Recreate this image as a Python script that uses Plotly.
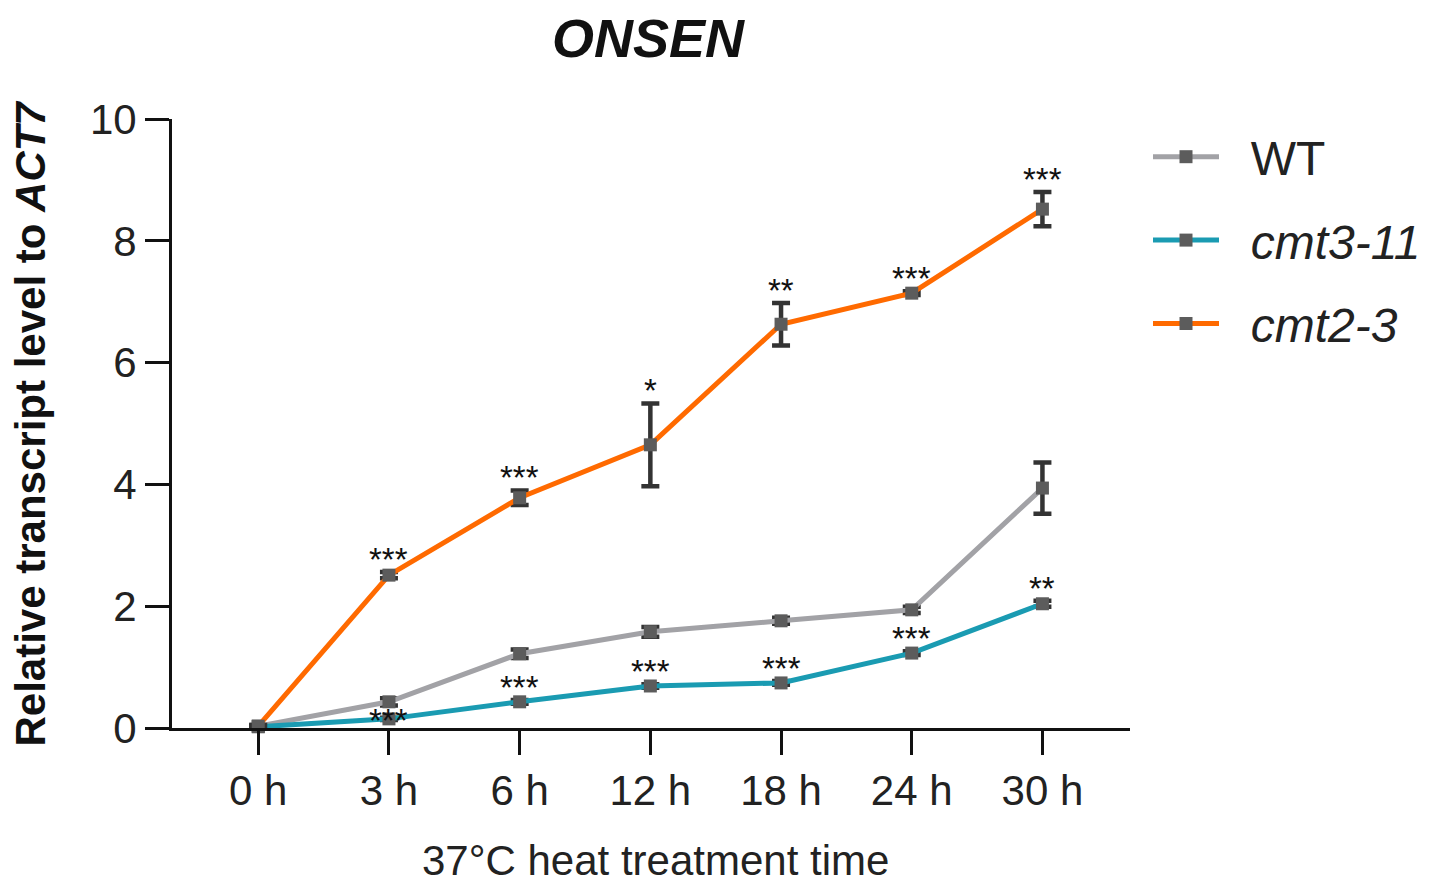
import plotly.graph_objects as go

times = ["0 h", "3 h", "6 h", "12 h", "18 h", "24 h", "30 h"]

wt_mean = [0.03, 0.43, 1.22, 1.58, 1.76, 1.94, 3.94]
wt_err = [0.02, 0.06, 0.07, 0.08, 0.05, 0.05, 0.42]

cmt3_mean = [0.02, 0.15, 0.43, 0.69, 0.74, 1.23, 2.04]
cmt3_err = [0.01, 0.02, 0.03, 0.03, 0.03, 0.03, 0.05]

cmt2_mean = [0.03, 2.51, 3.78, 4.65, 6.63, 7.14, 8.52]
cmt2_err = [0.02, 0.05, 0.12, 0.68, 0.35, 0.03, 0.28]

cmt3_stars = ["", "***", "***", "***", "***", "***", "**"]
cmt2_stars = ["", "***", "***", "*", "**", "***", "***"]

xpos = list(range(len(times)))

FONT = "Liberation Sans, Arial, sans-serif"
NB = "\u00a0"
fig = go.Figure()

series = [
    ("WT", wt_mean, wt_err, "#A2A2A6"),
    ("<i>cmt3-11</i>", cmt3_mean, cmt3_err, "#1A9BB2"),
    ("<i>cmt2-3</i>", cmt2_mean, cmt2_err, "#FF6A00"),
]
for i, (name, m, e, col) in enumerate(series):
    fig.add_trace(go.Scatter(
        x=xpos, y=m, name=NB * 2 + name, mode="lines+markers",
        line=dict(color=col, width=5),
        marker=dict(symbol="square", size=13, color="#5C5C5C"),
        error_y=dict(type="data", array=e, color="#333333", thickness=4.5, width=9),
        cliponaxis=False, legendgroup=f"g{i}",
    ))

annotations = []
for stars, m, e in ((cmt2_stars, cmt2_mean, cmt2_err), (cmt3_stars, cmt3_mean, cmt3_err)):
    for j, s in enumerate(stars):
        if not s:
            continue
        if stars is cmt3_stars and j == 1:
            y, shift = m[j], -22
        else:
            y, shift = m[j] + e[j], -8
        annotations.append(dict(
            x=xpos[j], y=y, text=s, showarrow=False, xref="x", yref="y",
            yanchor="bottom", yshift=shift,
            font=dict(family=FONT, size=33, color="#111111"),
        ))

# axis titles
annotations.append(dict(
    text="37°C heat treatment time", xref="paper", yref="paper",
    x=0.505, y=-0.0, yshift=-132, xanchor="center", yanchor="middle",
    showarrow=False, font=dict(family=FONT, size=42, color="#222222"),
))
annotations.append(dict(
    text="<b>Relative transcript level to <i>ACT7</i></b>", xref="paper", yref="paper",
    x=0, xshift=-142, y=0.5, xanchor="center", yanchor="middle", textangle=-90,
    showarrow=False, font=dict(family=FONT, size=42, color="#111111"),
))

fig.update_layout(
    width=1434, height=884,
    margin=dict(l=172, r=304, t=119, b=156),
    plot_bgcolor="white", paper_bgcolor="white",
    font=dict(family=FONT, size=42, color="#222222"),
    title=dict(text="<b><i>ONSEN</i></b>", x=648/1434, xanchor="center",
               y=1-38/884, yanchor="middle",
               font=dict(family="Liberation Sans Narrow, Arial Narrow, sans-serif", size=54, color="#111111")),
    showlegend=True,
    legend=dict(xref="container", yref="container", x=1148/1434, y=1-119/884,
                xanchor="left", yanchor="top",
                font=dict(family=FONT, size=48, color="#222222"),
                tracegroupgap=18, itemwidth=66, bgcolor="rgba(0,0,0,0)"),
    annotations=annotations,
)

fig.update_xaxes(
    tickmode="array", tickvals=xpos, ticktext=times,
    range=[-0.66, 6.67], showline=True, linecolor="#111111", linewidth=3,
    ticks="outside", ticklen=24, tickwidth=3, tickcolor="#111111",
    showgrid=False, zeroline=False, automargin=False,
    tickfont=dict(family=FONT, size=42, color="#222222"),
)
fig.update_yaxes(
    range=[0, 10], tickvals=[0, 2, 4, 6, 8, 10],
    showline=True, linecolor="#111111", linewidth=3,
    ticks="outside", ticklen=24, tickwidth=3, tickcolor="#111111",
    showgrid=False, zeroline=False, automargin=False,
    tickfont=dict(family=FONT, size=42, color="#222222"),
)

fig.write_html("out.html")
